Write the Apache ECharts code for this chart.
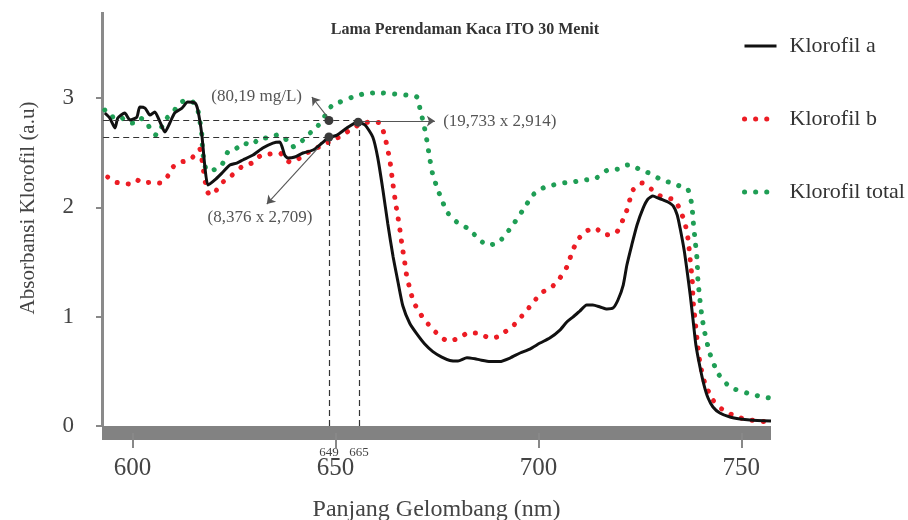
<!DOCTYPE html>
<html>
<head>
<meta charset="utf-8">
<script src="https://cdn.jsdelivr.net/npm/echarts@6/dist/echarts.min.js"></script>
<style>html,body{margin:0;padding:0;background:#fff;}#chart{width:908px;height:520px;}</style>
</head>
<body>
<div id="chart"></div>
<script>
// ---- data (wavelength nm, absorbance a.u.) ----
const klorofilA = [[593.2,2.864],[594.4,2.818],[595.7,2.726],[596.4,2.818],[598.1,2.864],[599.4,2.800],[601.1,2.827],[601.8,2.919],[603.1,2.909],[604.3,2.845],[605.5,2.873],[606.8,2.781],[608.0,2.690],[609.2,2.772],[610.4,2.864],[612.2,2.909],[613.6,2.964],[615.4,2.955],[616.1,2.891],[617.1,2.662],[617.8,2.388],[618.6,2.205],[620.3,2.251],[622.3,2.324],[624.0,2.388],[625.7,2.406],[627.2,2.434],[629.7,2.479],[632.1,2.543],[634.6,2.589],[636.3,2.598],[637.5,2.479],[638.3,2.452],[640.0,2.461],[642.0,2.498],[644.5,2.525],[646.7,2.589],[648.2,2.635],[650.4,2.662],[652.8,2.726],[655.5,2.781],[657.3,2.754],[659.2,2.644],[660.4,2.46],[661.7,2.16],[662.9,1.85],[664.2,1.55],[665.4,1.32],[666.6,1.10],[668.3,0.94],[670.1,0.84],[672.0,0.75],[674.0,0.68],[676.2,0.63],[678.2,0.60],[680.2,0.595],[682.4,0.625],[684.4,0.615],[685.6,0.605],[688.1,0.59],[690.5,0.59],[693.0,0.622],[695.5,0.668],[697.9,0.704],[700.4,0.759],[702.8,0.805],[705.3,0.878],[707.0,0.952],[708.5,0.997],[710.2,1.052],[711.9,1.107],[713.4,1.107],[715.2,1.089],[716.9,1.070],[718.4,1.080],[719.6,1.153],[720.9,1.290],[721.8,1.473],[723.0,1.656],[724.3,1.839],[725.8,1.994],[727.0,2.077],[728.2,2.104],[729.5,2.086],[730.7,2.068],[731.9,2.049],[733.2,2.013],[734.2,1.930],[734.9,1.811],[735.9,1.610],[736.6,1.427],[737.4,1.199],[738.1,0.970],[738.8,0.741],[739.8,0.540],[740.8,0.375],[741.8,0.256],[743.0,0.174],[744.7,0.119],[747.2,0.082],[749.7,0.064],[752.1,0.055],[757.3,0.046]];

const klorofilB = [[593.9,2.278],[595.7,2.232],[597.4,2.223],[599.4,2.214],[601.1,2.251],[602.6,2.223],[604.8,2.232],[606.8,2.223],[608.7,2.287],[610.0,2.370],[611.7,2.415],[613.6,2.425],[615.4,2.479],[616.6,2.534],[617.3,2.388],[618.3,2.159],[619.1,2.113],[620.3,2.141],[622.3,2.232],[624.0,2.278],[625.7,2.333],[627.2,2.379],[629.4,2.406],[631.4,2.470],[633.8,2.489],[636.3,2.498],[637.5,2.452],[638.8,2.415],[640.5,2.434],[642.5,2.489],[644.4,2.525],[646.9,2.571],[649.4,2.617],[651.8,2.662],[654.3,2.726],[656.8,2.772],[659.0,2.781],[661.0,2.772],[662.2,2.644],[662.9,2.525],[663.4,2.434],[664.2,2.205],[664.9,2.022],[665.4,1.912],[665.9,1.793],[666.4,1.656],[667.1,1.491],[667.6,1.363],[668.3,1.263],[669.1,1.153],[670.3,1.061],[672.0,0.970],[673.7,0.897],[675.7,0.823],[677.7,0.778],[680.6,0.805],[682.6,0.851],[685.1,0.851],[688.0,0.805],[689.8,0.814],[691.3,0.851],[693.5,0.906],[695.5,0.988],[697.2,1.061],[699.2,1.153],[701.1,1.226],[703.3,1.272],[705.3,1.354],[707.0,1.455],[708.5,1.610],[709.7,1.702],[711.4,1.775],[713.9,1.812],[716.4,1.747],[719.3,1.775],[720.8,1.885],[721.8,1.976],[722.5,2.068],[723.3,2.159],[725.5,2.223],[727.5,2.177],[729.5,2.113],[731.7,2.086],[733.6,2.068],[734.9,1.976],[736.1,1.857],[736.9,1.702],[737.4,1.519],[737.9,1.336],[738.1,1.153],[738.6,0.970],[739.1,0.787],[739.8,0.576],[741.0,0.393],[743.0,0.238],[745.5,0.146],[749.0,0.082],[752.2,0.055],[756.3,0.037]];

const klorofilTotal = [[593.2,2.891],[594.9,2.827],[596.4,2.845],[598.6,2.781],[600.1,2.772],[601.8,2.818],[603.5,2.781],[604.8,2.681],[606.0,2.662],[607.2,2.736],[608.5,2.818],[610.0,2.873],[611.7,2.955],[613.4,2.983],[614.9,2.964],[616.1,2.891],[617.1,2.662],[617.3,2.507],[618.3,2.342],[619.8,2.342],[622.0,2.388],[623.5,2.507],[625.7,2.543],[627.2,2.589],[629.4,2.571],[631.4,2.635],[633.4,2.635],[635.6,2.662],[637.5,2.635],[639.3,2.553],[641.2,2.589],[643.2,2.662],[645.4,2.736],[646.9,2.800],[648.1,2.891],[649.4,2.937],[651.1,2.964],[652.8,2.992],[654.3,3.010],[656.8,3.038],[659.2,3.047],[661.7,3.047],[664.6,3.038],[667.6,3.028],[670.1,3.010],[670.8,2.909],[671.8,2.754],[672.5,2.617],[673.3,2.434],[674.0,2.296],[675.0,2.187],[676.2,2.068],[677.7,1.949],[679.9,1.866],[682.4,1.812],[684.9,1.729],[687.3,1.656],[690.0,1.674],[692.2,1.766],[694.2,1.866],[696.7,2.004],[698.6,2.113],[701.1,2.177],[703.6,2.205],[706.0,2.223],[708.5,2.232],[710.9,2.251],[713.9,2.260],[715.8,2.315],[717.1,2.342],[719.6,2.351],[722.0,2.388],[724.2,2.360],[726.7,2.324],[728.2,2.296],[730.4,2.251],[732.9,2.223],[735.4,2.187],[736.9,2.159],[737.8,2.022],[738.1,1.885],[738.6,1.702],[739.1,1.519],[739.3,1.336],[739.8,1.153],[740.3,0.997],[741.0,0.851],[742.2,0.668],[744.2,0.485],[747.2,0.357],[751.4,0.302],[755.3,0.265],[757.3,0.256]];

const seriesNames = ['Klorofil a', 'Klorofil b', 'Klorofil total'];
const xTickValues = [600, 650, 700, 750];
const yTickValues = [0, 1, 2, 3];

// reference marks
const refWavelengths = [648.4, 655.8];     // dashed verticals
const refWavelengthLabels = ['649', '665'];
const refAbsUpper = 2.795;
const refAbsLower = 2.644;
const peakAbs = 2.78;
const annotationTexts = ['(80,19 mg/L)', '(19,733 x 2,914)', '(8,376 x 2,709)'];
const annotationPos = [[630.6, 3.01], [690.5, 2.79], [631.4, 1.903]];

const FONT = 'Liberation Serif';
const chart = echarts.init(document.getElementById('chart'));

const dashStyle = { type: [6, 4], color: '#333', width: 1.2 };
const arrowStyle = { type: 'solid', color: '#555', width: 1.1 };
const wlLabel = (t) => ({ show: true, position: 'start', distance: 20, formatter: t, fontFamily: FONT, fontSize: 13, color: '#444' });
const annLabel = (t) => ({ show: true, position: 'inside', formatter: t, fontFamily: FONT, fontSize: 17, color: '#555' });

chart.setOption({
  animation: false,
  backgroundColor: '#fff',
  title: {
    text: 'Lama Perendaman Kaca ITO 30 Menit',
    left: 460, top: 17, textAlign: 'center',
    textStyle: { fontFamily: FONT, fontSize: 16, fontWeight: 'bold', color: '#333' }
  },
  legend: {
    orient: 'vertical', left: 737, top: 28,
    itemWidth: 32, itemHeight: 14, itemGap: 47,
    data: seriesNames,
    itemStyle: { color: 'transparent', borderWidth: 0, opacity: 0 },
    lineStyle: { width: 'inherit' },
    textStyle: { fontFamily: FONT, fontSize: 22, color: '#333', lineHeight: 26, padding: [0, 0, 0, 8] }
  },
  grid: { left: 102, top: 12, width: 669, height: 414, containLabel: false, outerBoundsMode: 'none' },
  xAxis: {
    type: 'value', min: 592.5, max: 757.3,
    position: 'bottom', offset: 7,
    name: 'Panjang Gelombang (nm)', nameLocation: 'middle', nameGap: 65,
    nameTextStyle: { fontFamily: FONT, fontSize: 24, color: '#444' },
    axisLine: { onZero: false, lineStyle: { color: '#828282', width: 14, cap: 'butt' } },
    axisTick: { show: true, length: 15, customValues: xTickValues, lineStyle: { color: '#888', width: 2 } },
    axisLabel: { customValues: xTickValues, margin: 23, fontFamily: FONT, fontSize: 25, color: '#444' },
    splitLine: { show: false }
  },
  yAxis: {
    type: 'value', min: 0, max: 3.788,
    name: 'Absorbansi Klorofil (a.u)', nameLocation: 'middle', nameGap: 63, nameRotate: 90,
    nameTextStyle: { fontFamily: FONT, fontSize: 21, color: '#444', padding: [0, 0, 0, 22] },
    axisLine: { show: true, lineStyle: { color: '#8a8a8a', width: 3, cap: 'butt' } },
    axisTick: { show: true, length: 6, customValues: yTickValues, lineStyle: { color: '#888', width: 2 } },
    axisLabel: { customValues: yTickValues, margin: 28, fontFamily: FONT, fontSize: 23, color: '#444' },
    splitLine: { show: false }
  },
  series: [
    {
      name: seriesNames[1], type: 'line', data: klorofilB, symbol: 'none', showSymbol: false, smooth: 0.2,
      lineStyle: { color: '#ec1c24', width: 5, type: [0.1, 11], cap: 'round' },
      itemStyle: { color: '#ec1c24' }, z: 3
    },
    {
      name: seriesNames[2], type: 'line', data: klorofilTotal, symbol: 'none', showSymbol: false, smooth: 0.2,
      lineStyle: { color: '#1f9e55', width: 5, type: [0.1, 11], cap: 'round' },
      itemStyle: { color: '#1f9e55' }, z: 3
    },
    {
      name: seriesNames[0], type: 'line', data: klorofilA, symbol: 'none', showSymbol: false, smooth: 0.2,
      lineStyle: { color: '#111', width: 3 },
      itemStyle: { color: '#111' }, z: 4
    },
    {
      name: 'annotations', type: 'line', data: [], symbol: 'none', clip: false, silent: true, z: 5,
      markLine: {
        silent: true, animation: false,
        symbol: ['none', 'none'],
        lineStyle: dashStyle,
        label: { show: false },
        data: [
          [{ coord: [592.8, refAbsUpper] }, { coord: [refWavelengths[1], refAbsUpper] }],
          [{ coord: [592.8, refAbsLower] }, { coord: [refWavelengths[0], refAbsLower] }],
          [{ coord: [refWavelengths[0], 0], label: wlLabel(refWavelengthLabels[0]) }, { coord: [refWavelengths[0], refAbsLower] }],
          [{ coord: [refWavelengths[1], 0], label: wlLabel(refWavelengthLabels[1]) }, { coord: [refWavelengths[1], peakAbs] }],
          [{ coord: [648.4, 2.81], symbol: 'none', lineStyle: arrowStyle }, { coord: [644.2, 3.01], symbol: 'arrow', symbolSize: 8 }],
          [{ coord: [656.0, 2.79], symbol: 'none', lineStyle: arrowStyle }, { coord: [674.5, 2.79], symbol: 'arrow', symbolSize: 8 }],
          [{ coord: [645.7, 2.543], symbol: 'none', lineStyle: arrowStyle }, { coord: [633.1, 2.031], symbol: 'arrow', symbolSize: 8 }]
        ]
      },
      markPoint: {
        silent: true, animation: false,
        symbol: 'circle', symbolSize: 9,
        itemStyle: { color: '#3b3b3b' },
        label: { show: false },
        data: [
          { coord: [refWavelengths[0], refAbsUpper] },
          { coord: [refWavelengths[0], refAbsLower] },
          { coord: [655.6, peakAbs] },
          { coord: annotationPos[0], symbolSize: 0, label: annLabel(annotationTexts[0]) },
          { coord: annotationPos[1], symbolSize: 0, label: annLabel(annotationTexts[1]) },
          { coord: annotationPos[2], symbolSize: 0, label: annLabel(annotationTexts[2]) }
        ]
      }
    }
  ]
});
</script>
</body>
</html>
